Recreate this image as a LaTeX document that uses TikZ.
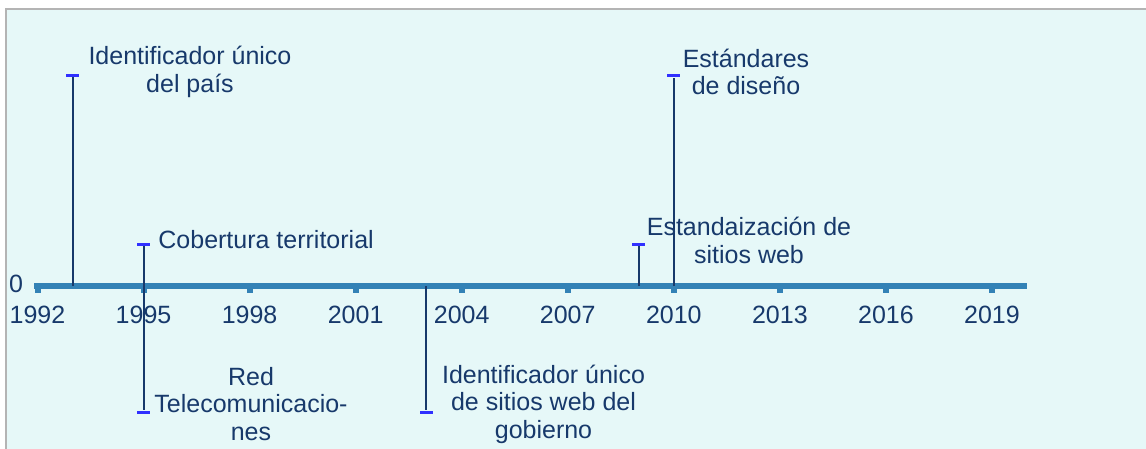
\documentclass[tikz,border=0pt]{standalone}
\usepackage{fontspec}
\setmainfont{Liberation Sans}
\definecolor{bgcyan}{HTML}{E6F8F8}
\definecolor{axisblue}{HTML}{3382B6}
\definecolor{navy}{HTML}{17396B}
\definecolor{capblue}{HTML}{3030FF}
\definecolor{framegray}{HTML}{B4B4B4}

\begin{document}
\begin{tikzpicture}[
		x=0.5pt, y=-0.5pt,
		every node/.style={text=navy, inner sep=0pt, font=\fontsize{12.5}{13.75}\selectfont},
		stem/.style={draw=navy, line width=1pt},
		endcap/.style={rectangle, fill=capblue, minimum width=6.5pt, minimum height=1.5pt},
		tickmark/.style={rectangle, fill=axisblue, minimum width=3pt, minimum height=3pt}
	]
  \useasboundingbox (0,0) rectangle (1146,449);
  \fill[bgcyan] (6,9) rectangle (1146,449);
  \draw[framegray, line width=0.6pt] (6,449) -- (6,9) -- (1146,9);
  % axis
  \coordinate (ax_start) at (34,286);
  \coordinate (ax_end) at (1027,286);
  \draw[axisblue, line width=3pt] (ax_start) -- (ax_end);
  \node (zero) at (16,284) {0};
  \foreach \yr [count=\i from 0] in {1992,1995,...,2019} {
    \node[tickmark] (t\yr) at (37.5+106.05*\i, 290) {};
    \node (y\yr) at (37.5+106.05*\i, 315) {\yr};
  }
  % events
  \coordinate (e93) at (72.9,286);
  \coordinate (e95) at (143.5,286);
  \coordinate (e03) at (426.4,286);
  \coordinate (e09) at (638.5,286);
  \coordinate (e10) at (673.8,286);
  \node[endcap] (c93) at (72.9,75.5) {};
  \node[endcap] (c95a) at (143.5,244) {};
  \node[endcap] (c95b) at (143.5,412) {};
  \node[endcap] (c03) at (426.4,412) {};
  \node[endcap] (c09) at (638.5,244.5) {};
  \node[endcap] (c10) at (673.8,76) {};
  \draw[stem] (e93) -- (c93);
  \draw[stem] (e95) -- (c95a);
  \draw[stem] (e95) -- (c95b);
  \draw[stem] (e03) -- (c03);
  \draw[stem] (e09) -- (c09);
  \draw[stem] (e10) -- (c10);
  % labels
  \node[align=center] (l93) at (190,72) {Identificador único\\del país};
  \node[anchor=west] (l95a) at (158,240) {Cobertura territorial};
  \node[align=center] (l95b) at (251,404) {Red\\Telecomunicacio-\\nes};
  \node[align=center] (l03) at (543.5,404) {Identificador único\\de sitios web del\\gobierno};
  \node[align=center] (l09) at (749,240.5) {Estandaización de\\sitios web};
  \node[align=center] (l10) at (746,72) {Estándares\\de diseño};
\end{tikzpicture}
\end{document}
